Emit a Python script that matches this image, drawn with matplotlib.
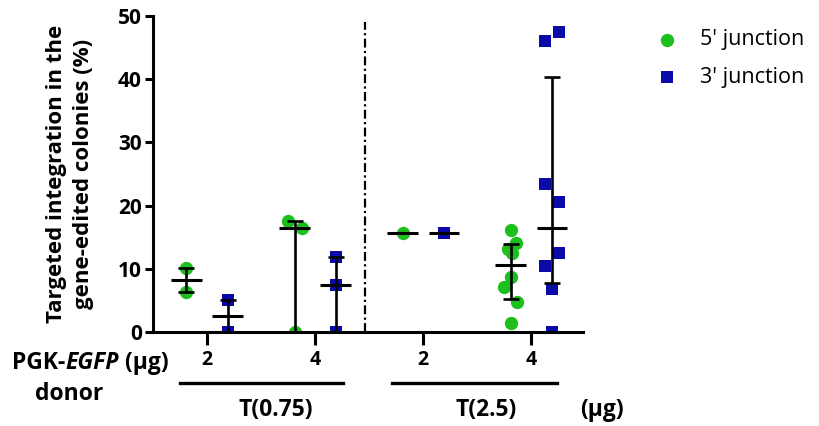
import numpy as np
import matplotlib
matplotlib.use("Agg")
import matplotlib.pyplot as plt
from matplotlib.lines import Line2D

# values (% targeted integration)
dose_labels = ["2", "4", "2", "4"]
five_prime = [[10.1, 6.3],
              [17.5, 16.5, 0.0],
              [15.7],
              [16.1, 14.1, 13.1, 12.5, 8.7, 7.1, 4.7, 1.4]]
three_prime = [[5.0, 0.0],
               [11.9, 7.4, 0.0],
               [15.7],
               [47.4, 46.1, 23.4, 20.5, 12.5, 10.4, 6.8, 0.0]]
series_names = ["5' junction", "3' junction"]

# horizontal scatter of points inside a column (pixels in the original)
jit5 = [[0, 0], [-7, 7, 0], [0], [0, 5, -3, 1, 0, -7, 6, 0]]
jit3 = [[0, 0], [0, 0, 0], [0], [7, -7, -7, 7, 7, -7, 0, 0]]

green = "#1dbf1d"
blue = "#0a0aa8"
plt.rcParams['font.family'] = ['Open Sans', 'DejaVu Sans']

W, H = 820, 426
fig = plt.figure(figsize=(W / 100, H / 100), dpi=100)
ax = fig.add_axes([153 / W, 94 / H, 430 / W, 316 / H])

px = 1 / 108.0  # one pixel in x data units
off = 0.19

def draw_column(x0, vals, jit, color, marker, ms):
    vals = np.array(vals)
    xs = x0 + np.array(jit) * px
    ax.plot(xs, vals, linestyle="none", marker=marker, ms=ms, color=color,
            markeredgewidth=0, zorder=2)
    # median with interquartile range
    q1, med, q3 = np.percentile(vals, [25, 50, 75], method="weibull")
    if q3 > q1:
        ax.errorbar([x0], [med], yerr=[[med - q1], [q3 - med]], fmt="none",
                    ecolor="black", elinewidth=1.9, capsize=5.5,
                    capthick=1.9, zorder=3)
    ax.hlines(med, x0 - 0.14, x0 + 0.14, color="black", lw=2.2, zorder=3)

for i in range(4):
    c = i + 1
    draw_column(c - off, five_prime[i], jit5[i], green, "o", 9.6)
    draw_column(c + off, three_prime[i], jit3[i], blue, "s", 8.8)

ax.plot([2.46, 2.46], [0, 49], color="black", lw=1.6,
        dashes=(4, 1.5, 1, 1.5), zorder=1)

ax.set_xlim(0.5, 4.48)
ax.set_ylim(0, 50)
ax.set_yticks([0, 10, 20, 30, 40, 50])
ax.set_xticks([1, 2, 3, 4])
ax.set_xticklabels(dose_labels)
for s in ["top", "right"]:
    ax.spines[s].set_visible(False)
for s in ["left", "bottom"]:
    ax.spines[s].set_linewidth(2.2)
ax.tick_params(axis="y", length=6, width=2.2, labelsize=15, pad=2)
ax.tick_params(axis="x", length=9, width=2.2, labelsize=14, pad=4)
for t in ax.get_xticklabels() + ax.get_yticklabels():
    t.set_fontweight("bold")

ax.set_ylabel("Targeted integration in the\ngene-edited colonies (%)",
              fontsize=16, fontweight="bold", linespacing=1.4,
              labelpad=17)

# bottom annotations
fs = 16.5
t1 = fig.text(12 / W, 1 - 363 / H, "PGK-", fontsize=fs, fontweight="bold",
              va="center")
t2 = ax.annotate("EGFP", xy=(1, 0), xycoords=t1, va="bottom", fontsize=fs,
                 fontweight="bold", style="italic", annotation_clip=False)
ax.annotate(" (\u03bcg)", xy=(1, 0), xycoords=t2, va="bottom", fontsize=fs,
            fontweight="bold", annotation_clip=False)
fig.text(69 / W, 1 - 394 / H, "donor", fontsize=fs, fontweight="bold",
         ha="center", va="center")

for x0, x1 in [(180, 343), (392, 557)]:
    fig.add_artist(Line2D([x0 / W, x1 / W], [1 - 383 / H] * 2,
                          color="black", lw=2.4))
fig.text(276 / W, 1 - 410 / H, "T(0.75)", fontsize=fs, fontweight="bold",
         ha="center", va="center")
fig.text(486 / W, 1 - 410 / H, "T(2.5)", fontsize=fs, fontweight="bold",
         ha="center", va="center")
fig.text(602 / W, 1 - 410 / H, "(\u03bcg)", fontsize=fs, fontweight="bold",
         ha="center", va="center")

# legend, laid out by hand
for name, color, marker, ms, ypx in [(series_names[0], green, "o", 9.6, 40),
                                     (series_names[1], blue, "s", 8.8, 77)]:
    fig.add_artist(Line2D([667 / W], [1 - ypx / H], linestyle="none",
                          marker=marker, ms=ms, color=color,
                          markeredgewidth=0))
    fig.text(700 / W, 1 - ypx / H, name, fontsize=15.5, va="center")

fig.savefig("out.png", dpi=100)
